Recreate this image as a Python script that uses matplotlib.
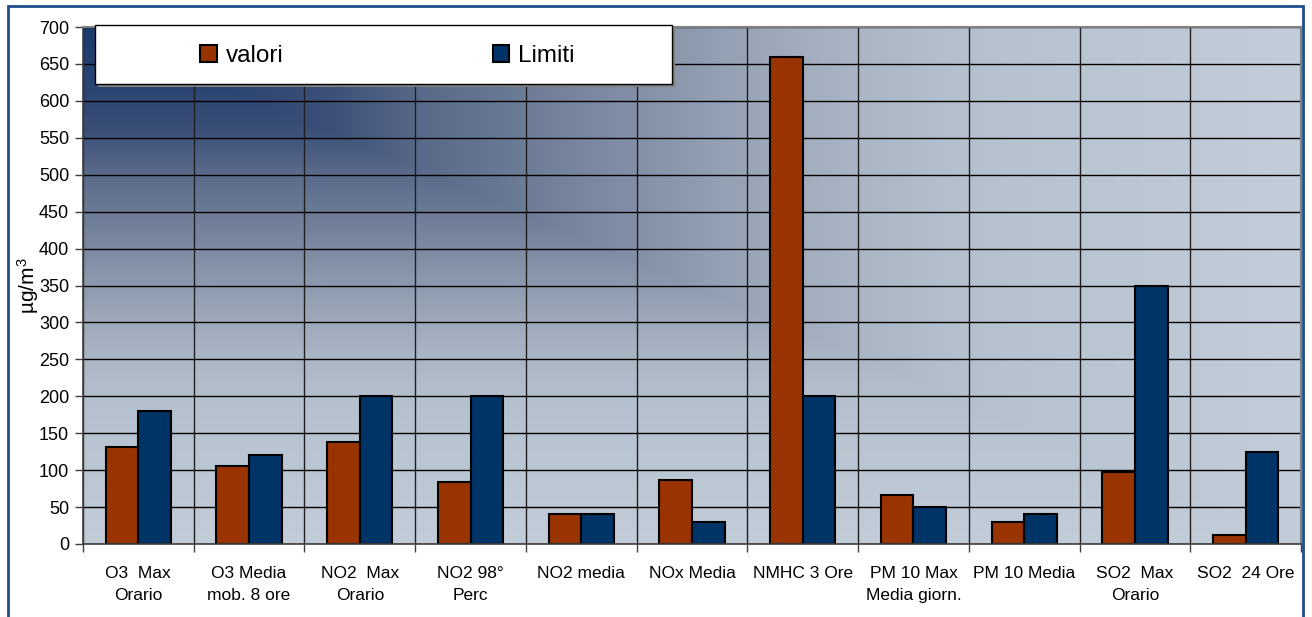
import numpy as np
import matplotlib
matplotlib.use("Agg")
import matplotlib.pyplot as plt
from matplotlib.colors import LinearSegmentedColormap
from matplotlib.patches import Rectangle

# categorie e valori (µg/m3)
categorie = ["O3  Max\nOrario", "O3 Media\nmob. 8 ore", "NO2  Max\nOrario",
             "NO2 98°\nPerc", "NO2 media", "NOx Media", "NMHC 3 Ore",
             "PM 10 Max\nMedia giorn.", "PM 10 Media", "SO2  Max\nOrario",
             "SO2  24 Ore"]
valori = [131, 105, 138, 84, 40, 87, 660, 66, 30, 98, 12]
limiti = [180, 120, 200, 200, 40, 30, 200, 50, 40, 350, 125]

plt.rcParams['font.family'] = ['Liberation Sans', 'DejaVu Sans']
plt.rcParams['mathtext.default'] = 'regular'

fig = plt.figure(figsize=(13.12, 6.17), dpi=100)
fig.patch.set_facecolor('white')
ax = fig.add_axes([83/1312, 1 - 544/617, 1218/1312, 517/617])

# sfondo sfumato dall'angolo in alto a sinistra
sfondo = LinearSegmentedColormap.from_list("sfondo", [
    (0.00, "#1a3a6e"), (0.12, "#2c4572"), (0.20, "#3c5078"),
    (0.28, "#5a6a8a"), (0.36, "#6c7b96"), (0.43, "#7e8aa2"),
    (0.50, "#8e9aae"), (0.56, "#9ca8b9"), (0.64, "#aab6c4"),
    (0.72, "#b4c0ce"), (0.80, "#b8c4d1"), (0.92, "#bec9d5"),
    (1.00, "#c2cdd9")])
u, v = np.meshgrid(np.linspace(0, 1, 600), np.linspace(0, 1, 300))
ax.imshow(np.maximum(u, v), cmap=sfondo, vmin=0, vmax=1, aspect='auto',
          extent=[0, 1, 0, 1], origin='upper', transform=ax.transAxes,
          zorder=0, interpolation='bilinear')

x = np.arange(len(categorie))
w = 0.295
ax.bar(x - w/2, valori, w, color='#993300', edgecolor='black', linewidth=1.5,
       label='valori', zorder=2)
ax.bar(x + w/2, limiti, w, color='#003366', edgecolor='black', linewidth=1.5,
       label='Limiti', zorder=2)

ax.set_xlim(-0.5, len(categorie) - 0.5)
ax.set_ylim(0, 700)
ax.set_yticks(np.arange(0, 701, 50))
ax.set_xticks(x)
ax.set_xticklabels(categorie, fontsize=12.5, linespacing=1.55)
ax.set_xticks(np.arange(-0.5, len(categorie), 1), minor=True)
ax.tick_params(axis='x', which='major', length=0, pad=16)
ax.tick_params(axis='x', which='minor', length=6, width=1, color='#404040')
ax.tick_params(axis='y', length=6, width=1, color='#404040', labelsize=13, pad=4)

ax.set_axisbelow(True)
ax.grid(axis='y', color='black', linewidth=1.0, zorder=1)
ax.grid(axis='x', which='minor', color='#202020', linewidth=1.0, zorder=1)
ax.grid(axis='x', which='major', visible=False)
for lato in ['left', 'bottom']:
    ax.spines[lato].set_color('#404040')
    ax.spines[lato].set_linewidth(1.2)
for lato in ['top', 'right']:
    ax.spines[lato].set_color('#808080')
    ax.spines[lato].set_linewidth(1.5)

ax.set_ylabel("µg/m$^3$", fontsize=15)
ax.yaxis.set_label_coords((41 - 83) / 1218, 0.5)

# riquadro della legenda con ombra
x0, y0 = (95 - 83) / 1218, (544 - 84) / 517
lw_, lh_ = (672 - 95) / 1218, (84 - 25) / 517
dx, dy = 3 / 1218, 3 / 517
ax.add_patch(Rectangle((x0 + dx, y0 - dy), lw_, lh_, transform=ax.transAxes,
                       facecolor='#808080', edgecolor='none', clip_on=False,
                       zorder=5))
ax.add_patch(Rectangle((x0, y0), lw_, lh_, transform=ax.transAxes,
                       facecolor='white', edgecolor='black', linewidth=1.0,
                       clip_on=False, zorder=6))
leg = ax.legend(loc='center left', bbox_to_anchor=((200 - 83) / 1218, (544 - 56) / 517),
                ncol=2, frameon=False, fontsize=17.5, handlelength=0.68,
                handleheight=0.68, handletextpad=0.38, columnspacing=8.6,
                borderpad=0, borderaxespad=0)
leg.set_zorder(7)

# cornice esterna
fig.add_artist(Rectangle((8/1312, -0.02), (1303 - 8)/1312, 1.02 - 6/617,
                         transform=fig.transFigure, fill=False,
                         edgecolor='#1f4e8c', linewidth=2))

fig.savefig("out.png", dpi=100)
